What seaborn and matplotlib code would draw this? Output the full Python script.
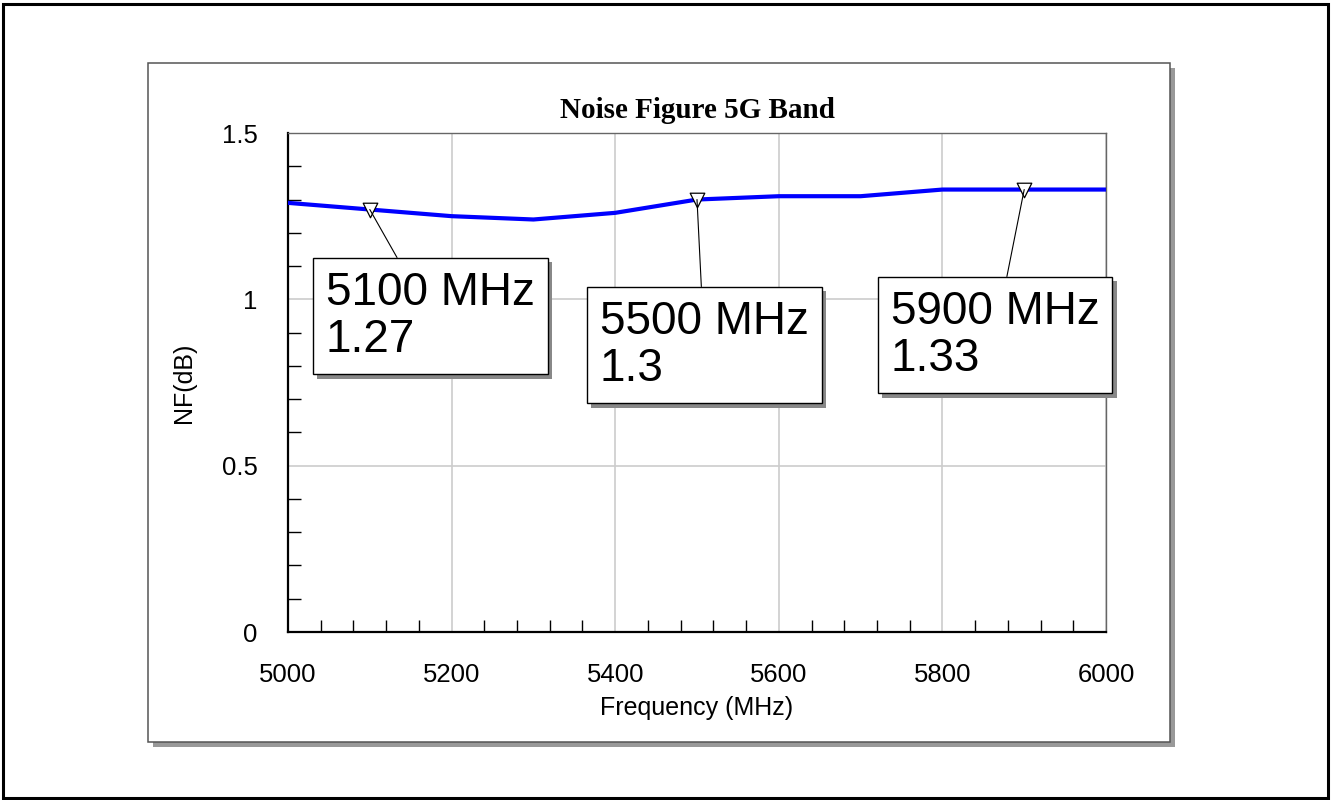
import matplotlib
matplotlib.use("Agg")
import matplotlib.pyplot as plt
import matplotlib.patches as mpatches
import matplotlib.patheffects as pe
from matplotlib.ticker import MultipleLocator
import seaborn as sns
import pandas as pd

# ---- data ----
freq_mhz = [5000, 5100, 5200, 5300, 5400, 5500, 5600, 5700, 5800, 5900, 6000]
nf_db = [1.29, 1.27, 1.25, 1.24, 1.26, 1.30, 1.31, 1.31, 1.33, 1.33, 1.33]
marker_freq = [5100, 5500, 5900]
marker_nf = [1.27, 1.30, 1.33]
marker_labels = ["5100 MHz\n1.27", "5500 MHz\n1.3", "5900 MHz\n1.33"]
x_ticks = [5000, 5200, 5400, 5600, 5800, 6000]
y_ticks = [0, 0.5, 1, 1.5]
y_tick_labels = ["0", "0.5", "1", "1.5"]

title = "Noise Figure 5G Band"
x_label = "Frequency (MHz)"
y_label = "NF(dB)"

# ---- layout (figure pixels, from top-left) ----
W, H = 1331, 800
box_tl = [(313, 258), (587, 287), (878, 277)]

sns.set_style("white")
plt.rcParams["font.family"] = ["Liberation Sans", "DejaVu Sans"]
plt.rcParams["text.color"] = "black"
plt.rcParams["axes.labelcolor"] = "black"
plt.rcParams["xtick.color"] = "black"
plt.rcParams["ytick.color"] = "black"

fig = plt.figure(figsize=(W / 100, H / 100), dpi=100)
fig.patch.set_facecolor("white")

# outer border
fig.patches.append(mpatches.Rectangle((3 / W, 2 / H), 1325 / W, 794 / H,
                                      transform=fig.transFigure, fill=False,
                                      ec="black", lw=2.2, zorder=-2))
# inner frame with shadow
fl, ft, fr, fb = 148, 63, 1170, 742
frame = mpatches.Rectangle((fl / W, 1 - fb / H), (fr - fl) / W, (fb - ft) / H,
                           transform=fig.transFigure, fc="white", ec="#555555",
                           lw=1.1, zorder=-1)
frame.set_path_effects([pe.SimplePatchShadow(offset=(3.5, -3.5), shadow_rgbFace="#999999", alpha=1.0),
                        pe.Normal()])
fig.patches.append(frame)

ax = fig.add_axes([288 / W, 1 - 632 / H, (1106 - 288) / W, (632 - 133) / H])
ax.set_zorder(2)
ax.set_facecolor("white")

df = pd.DataFrame({"freq": freq_mhz, "nf": nf_db})
sns.lineplot(data=df, x="freq", y="nf", color="#0000ff", lw=3.0, ax=ax, zorder=3)
mdf = pd.DataFrame({"freq": marker_freq, "nf": marker_nf})
sns.scatterplot(data=mdf, x="freq", y="nf", marker="v", s=110, facecolor="white",
                edgecolor="black", linewidth=0.9, ax=ax, zorder=4)

ax.set_xlim(5000, 6000)
ax.set_ylim(0, 1.5)
ax.set_xticks(x_ticks)
ax.set_yticks(y_ticks)
ax.set_yticklabels(y_tick_labels)
ax.xaxis.set_minor_locator(MultipleLocator(40))
ax.yaxis.set_minor_locator(MultipleLocator(0.1))
ax.tick_params(axis="both", which="both", bottom=True, left=True, top=False, right=False)
ax.tick_params(axis="both", which="major", length=0, labelsize=18.5, pad=22,
               labelcolor="black")
ax.tick_params(axis="both", which="minor", direction="in", length=9, width=1.0,
               color="black")
ax.grid(True, which="major", color="#cccccc", lw=1.2)
ax.set_axisbelow(True)

for s in ["left", "bottom"]:
    ax.spines[s].set_color("black")
    ax.spines[s].set_linewidth(1.6)
for s in ["top", "right"]:
    ax.spines[s].set_color("#666666")
    ax.spines[s].set_linewidth(1.0)
    ax.spines[s].set_visible(True)

ax.set_title(title, fontsize=21, fontweight="bold", family=["Liberation Serif"], pad=11,
             color="black")
ax.set_xlabel(x_label, fontsize=18, color="black")
ax.set_ylabel(y_label, fontsize=18, color="black")
ax.xaxis.set_label_coords(0.5, -0.128)
ax.yaxis.set_label_coords(-0.113, 0.5)

pad = 0.28
fs = 33
for f, v, lab, (bx, by) in zip(marker_freq, marker_nf, marker_labels, box_tl):
    pad_px = pad * fs * 100 / 72
    ann = ax.annotate(lab, xy=(f, v), xycoords="data",
                      xytext=(bx + pad_px, H - by - pad_px), textcoords="figure pixels",
                      ha="left", va="top", fontsize=fs, linespacing=1.08, color="black",
                      bbox=dict(boxstyle=f"square,pad={pad}", fc="white", ec="black", lw=1.0),
                      arrowprops=dict(arrowstyle="-", color="black", lw=0.8,
                                      shrinkA=0, shrinkB=0),
                      zorder=5)
    ann.get_bbox_patch().set_path_effects([pe.SimplePatchShadow(offset=(3, -3), shadow_rgbFace="#888888", alpha=1.0),
                                           pe.Normal()])

fig.savefig("out.png", dpi=100, facecolor="white")
